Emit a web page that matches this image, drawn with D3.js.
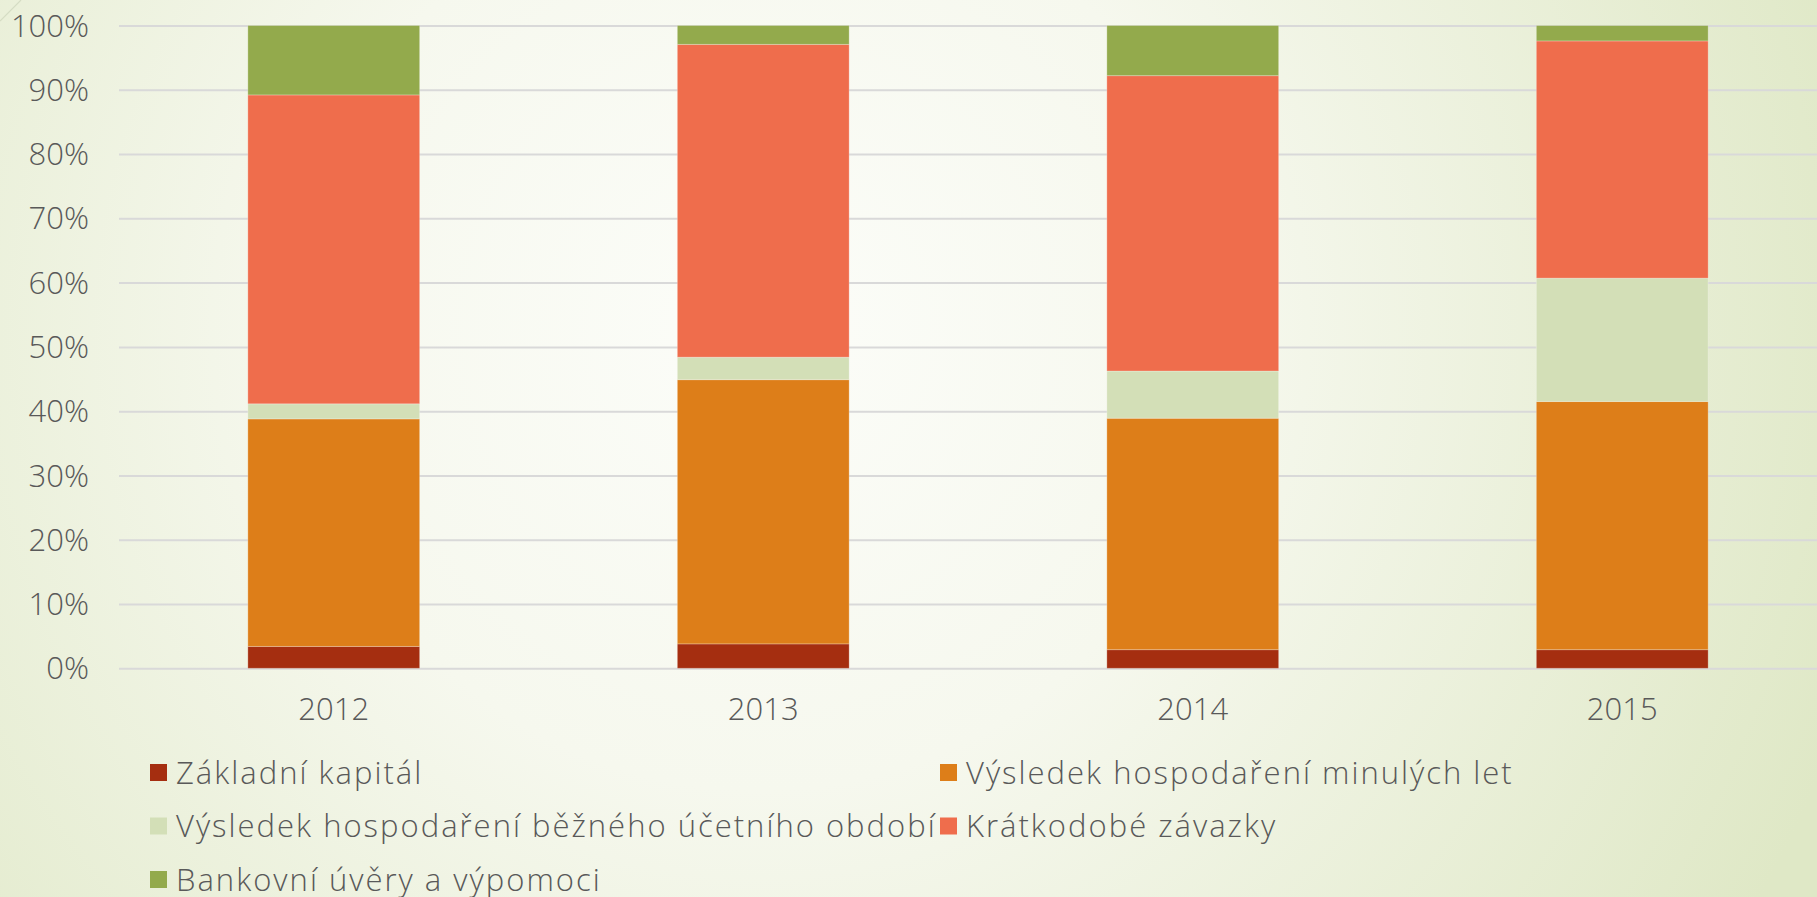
<!DOCTYPE html>
<html lang="cs">
	<head>
		<meta charset="utf-8">
		<title>Struktura pasiv</title>
		<script src="https://d3js.org/d3.v7.min.js"></script>
		<style type="text/css">
		html, body {
			margin: 0;
			padding: 0;
			overflow: hidden;
		}
		text {
			font-family: "Open Sans", "DejaVu Sans", sans-serif;
			font-weight: 300;
			fill: #595959;
		}
		</style>
	</head>
	<body>
		<div id="chart"></div>
		<script type="text/javascript">
		// data (percent shares)
		var years = ["2012", "2013", "2014", "2015"];
		var seriesNames = [
			"Základní kapitál",
			"Výsledek hospodaření minulých let",
			"Výsledek hospodaření běžného účetního období",
			"Krátkodobé závazky",
			"Bankovní úvěry a výpomoci"
		];
		var zakladniKapital = [3.4, 3.8, 2.9, 2.9];
		var vhMinulychLet = [35.4, 41.1, 36.0, 38.6];
		var vhBeznehoObdobi = [2.35, 3.5, 7.35, 19.2];
		var kratkodobeZavazky = [48.05, 48.66, 45.95, 36.9];
		var bankovniUvery = [10.8, 2.94, 7.8, 2.4];
		var yTicks = [0, 0.1, 0.2, 0.3, 0.4, 0.5, 0.6, 0.7, 0.8, 0.9, 1];

		var colors = ["#a52e10", "#dd7e19", "#d3dfb7", "#ef6d4c", "#93aa4c"];

		//Width and height
		var w = 1817;
		var h = 897;

		// build rows for d3.stack
		var allSeries = [zakladniKapital, vhMinulychLet, vhBeznehoObdobi, kratkodobeZavazky, bankovniUvery];
		var rows = years.map(function (y, i) {
			var r = { year: y };
			seriesNames.forEach(function (s, j) { r[s] = allSeries[j][i]; });
			return r;
		});

		var stack = d3.stack()
		.keys(seriesNames)
		.offset(d3.stackOffsetExpand);
		var layers = stack(rows);

		//Scales
		var xScale = d3.scaleBand()
		.domain(years)
		.range([119, 1837])
		.paddingInner(0.6)
		.paddingOuter(0.3);

		var yScale = d3.scaleLinear()
		.domain([0, 1])
		.range([668.3, 25.5]);

		var color = d3.scaleOrdinal()
		.domain(seriesNames)
		.range(colors);

		//Create SVG element
		var svg = d3.select("#chart")
		.append("svg")
		.attr("width", w)
		.attr("height", h);

		// background gradient
		var defs = svg.append("defs");
		var grad = defs.append("radialGradient")
		.attr("id", "bg")
		.attr("gradientUnits", "userSpaceOnUse")
		.attr("cx", 760)
		.attr("cy", 330)
		.attr("r", 1150);
		grad.append("stop").attr("offset", "0%").attr("stop-color", "#fcfdf9");
		grad.append("stop").attr("offset", "40%").attr("stop-color", "#f6f8ee");
		grad.append("stop").attr("offset", "100%").attr("stop-color", "#dfe8c6");

		svg.append("rect")
		.attr("width", w)
		.attr("height", h)
		.attr("fill", "url(#bg)");

		// decorative corner line
		svg.append("line")
		.attr("x1", 0).attr("y1", 21)
		.attr("x2", 21).attr("y2", 0)
		.attr("stroke", "#d5dcc4")
		.attr("stroke-width", 1.2);

		//Gridlines + Y axis
		var yAxis = d3.axisLeft(yScale)
		.tickValues(yTicks)
		.tickFormat(d3.format(".0%"))
		.tickSize(-(w - 119))
		.tickPadding(30);

		var gy = svg.append("g")
		.attr("transform", "translate(119,0)")
		.call(yAxis);
		gy.select(".domain").remove();
		gy.selectAll(".tick line")
		.attr("stroke", "#d9d9d9")
		.attr("stroke-width", 2);
		gy.selectAll(".tick text")
		.attr("font-size", 31)
		.attr("dy", "0.34em");

		//Bars
		svg.append("g")
		.selectAll("g")
		.data(layers)
		.enter()
		.append("g")
		.attr("fill", d => color(d.key))
		.selectAll("rect")
		.data(d => d)
		.enter()
		.append("rect")
		.attr("x", d => xScale(d.data.year))
		.attr("y", d => yScale(d[1]))
		.attr("width", xScale.bandwidth())
		.attr("height", d => yScale(d[0]) - yScale(d[1]))
		.attr("stroke", "#ffffff")
		.attr("stroke-opacity", 0.25)
		.attr("stroke-width", 1);

		//X axis labels
		var xAxis = d3.axisBottom(xScale)
		.tickSize(0)
		.tickPadding(0);
		var gx = svg.append("g")
		.attr("transform", "translate(0,709)")
		.call(xAxis);
		gx.select(".domain").remove();
		gx.selectAll(".tick text")
		.attr("font-size", 31)
		.attr("dy", "0.34em");

		//Legend
		var legend = svg.append("g");
		var item = legend.selectAll("g")
		.data(seriesNames)
		.enter()
		.append("g")
		.attr("transform", function (d, i) {
			var col = i % 2;
			var row = Math.floor(i / 2);
			return "translate(" + (150 + col * 790) + "," + (772.5 + row * 53.5) + ")";
		});
		item.append("rect")
		.attr("x", 0)
		.attr("y", -8.5)
		.attr("width", 17)
		.attr("height", 17)
		.attr("fill", d => color(d));
		item.append("text")
		.attr("x", 26)
		.attr("dy", "0.36em")
		.attr("font-size", 31)
		.attr("letter-spacing", 2)
		.text(d => d);
		</script>
	</body>
</html>
